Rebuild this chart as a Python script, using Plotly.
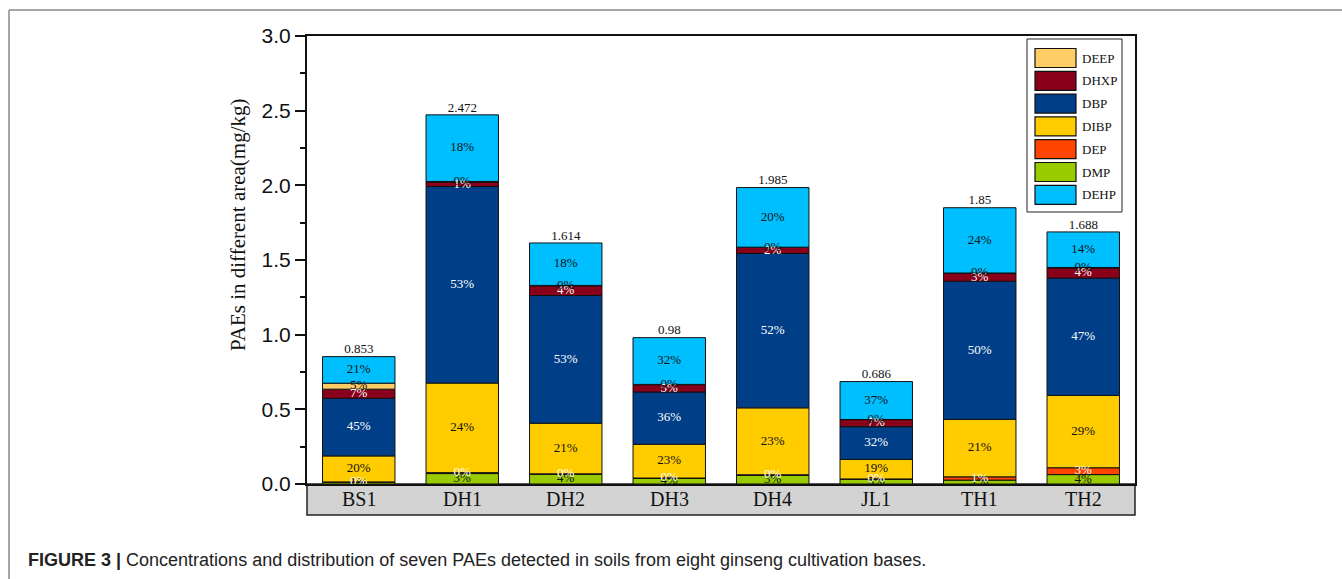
import plotly.graph_objects as go

# Sampling sites (ginseng cultivation bases)
sites = ["BS1", "DH1", "DH2", "DH3", "DH4", "JL1", "TH1", "TH2"]

# PAE concentrations in soil, mg/kg (stacked bottom to top)
DMP = [0.012, 0.070, 0.065, 0.038, 0.058, 0.032, 0.026, 0.063]
DEP = [0.002, 0.006, 0.003, 0.002, 0.004, 0.002, 0.022, 0.046]
DIBP = [0.174, 0.600, 0.339, 0.226, 0.448, 0.131, 0.385, 0.484]
DBP = [0.386, 1.316, 0.855, 0.350, 1.034, 0.219, 0.925, 0.786]
DHXP = [0.061, 0.030, 0.065, 0.049, 0.040, 0.047, 0.052, 0.068]
DEEP = [0.040, 0.004, 0.003, 0.002, 0.002, 0.001, 0.003, 0.003]
DEHP = [0.178, 0.446, 0.284, 0.313, 0.399, 0.254, 0.437, 0.238]

# (name, values, fill colour, label colour) in stacking order
series = [
    ("DMP", DMP, "#99CC00", "#111111"),
    ("DEP", DEP, "#FF4500", "#FFFFFF"),
    ("DIBP", DIBP, "#FFCC00", "#111111"),
    ("DBP", DBP, "#003F87", "#FFFFFF"),
    ("DHXP", DHXP, "#880019", "#FFFFFF"),
    ("DEEP", DEEP, "#FFCC66", "#111111"),
    ("DEHP", DEHP, "#00BFFF", "#111111"),
]
legend_order = ["DEEP", "DHXP", "DBP", "DIBP", "DEP", "DMP", "DEHP"]

totals = [sum(s[1][i] for s in series) for i in range(len(sites))]

SERIF = "Liberation Serif, Times New Roman, serif"
SANS = "Liberation Sans, Arial, sans-serif"

# page geometry (pixels)
W, H = 1342, 579
L, R, T, B = 307, 1135, 36, 484


def px(x):
    return (x - L) / (R - L)


def py(y):
    return (B - y) / (B - T)


fig = go.Figure()

base = [0.0] * len(sites)
for name, vals, color, tcolor in series:
    fig.add_trace(go.Bar(
        x=sites, y=vals, name=name, base=base[:],
        marker=dict(color=color, line=dict(color="#111111", width=1)),
        width=0.7, showlegend=False, hoverinfo="skip",
    ))
    mids = [b + v / 2 for b, v in zip(base, vals)]
    pct = [f"{round(v / t * 100):.0f}%" for v, t in zip(vals, totals)]
    fig.add_trace(go.Scatter(
        x=sites, y=mids, mode="text", text=pct,
        textfont=dict(family=SERIF, size=13, color=tcolor),
        showlegend=False, hoverinfo="skip", cliponaxis=False,
    ))
    base = [b + v for b, v in zip(base, vals)]

# total concentration above each bar
fig.add_trace(go.Scatter(
    x=sites, y=totals, mode="text",
    text=[f"{round(t, 3):g}" for t in totals],
    textposition="top center",
    textfont=dict(family=SERIF, size=13, color="#111111"),
    showlegend=False, hoverinfo="skip", cliponaxis=False,
))

shapes = []
annotations = []

# category band under the plot
shapes.append(dict(type="rect", xref="paper", yref="paper",
                   x0=0, x1=1, y0=py(515), y1=0,
                   fillcolor="#D3D3D3", line=dict(color="#222222", width=1.5),
                   layer="below"))
for i, s in enumerate(sites):
    annotations.append(dict(x=s, y=py(499), xref="x", yref="paper",
                            text=s, showarrow=False,
                            font=dict(family=SERIF, size=20, color="#111111"),
                            xanchor="center", yanchor="middle"))

# legend box
colors = {n: c for n, _, c, _ in series}
shapes.append(dict(type="rect", xref="paper", yref="paper",
                   x0=px(1027), x1=px(1122), y0=py(212), y1=py(39),
                   fillcolor="white", line=dict(color="#222222", width=1)))
for k, name in enumerate(legend_order):
    cy = 58 + k * 22.8
    shapes.append(dict(type="rect", xref="paper", yref="paper",
                       x0=px(1035), x1=px(1076), y0=py(cy + 9.5), y1=py(cy - 9.5),
                       fillcolor=colors[name], line=dict(color="#111111", width=1.2)))
    annotations.append(dict(x=px(1080), y=py(cy), xref="paper", yref="paper",
                            text=name, showarrow=False, xanchor="left", yanchor="middle",
                            font=dict(family=SERIF, size=13, color="#111111")))

# y-axis title
annotations.append(dict(x=px(238), y=py(225), xref="paper", yref="paper",
                        text="PAEs in different area(mg/kg)", textangle=-90,
                        showarrow=False, xanchor="center", yanchor="middle",
                        font=dict(family=SERIF, size=21, color="#111111")))

# caption
annotations.append(dict(x=px(26), y=py(560), xref="paper", yref="paper",
                        text="<b>FIGURE 3 |</b> Concentrations and distribution of seven PAEs "
                             "detected in soils from eight ginseng cultivation bases.",
                        showarrow=False, xanchor="left", yanchor="middle",
                        font=dict(family=SANS, size=18, color="#222222")))

# page border lines
shapes.append(dict(type="line", xref="paper", yref="paper",
                   x0=px(9), x1=px(W), y0=py(10), y1=py(10),
                   line=dict(color="#888888", width=1.5)))
shapes.append(dict(type="line", xref="paper", yref="paper",
                   x0=px(9), x1=px(9), y0=py(10), y1=py(H),
                   line=dict(color="#888888", width=1.5)))

fig.update_layout(
    width=W, height=H,
    margin=dict(l=L, r=W - R, t=T, b=H - B, pad=0),
    paper_bgcolor="white", plot_bgcolor="white",
    barmode="overlay",
    shapes=shapes, annotations=annotations,
    xaxis=dict(range=[-0.5, 7.5], showticklabels=False, ticks="",
               showline=True, mirror=True, linecolor="#111111", linewidth=2,
               showgrid=False, zeroline=False, fixedrange=True),
    yaxis=dict(range=[0, 3], dtick=0.5, tickformat=".1f",
               ticks="outside", ticklen=10, tickwidth=1.5, tickcolor="#111111",
               minor=dict(dtick=0.25, ticks="outside", ticklen=5, tickwidth=1.5,
                          tickcolor="#111111"),
               showline=True, mirror=True, linecolor="#111111", linewidth=2,
               showgrid=False, zeroline=False,
               tickfont=dict(family=SANS, size=21, color="#111111"),
               fixedrange=True),
)

fig.write_html("out.html")
